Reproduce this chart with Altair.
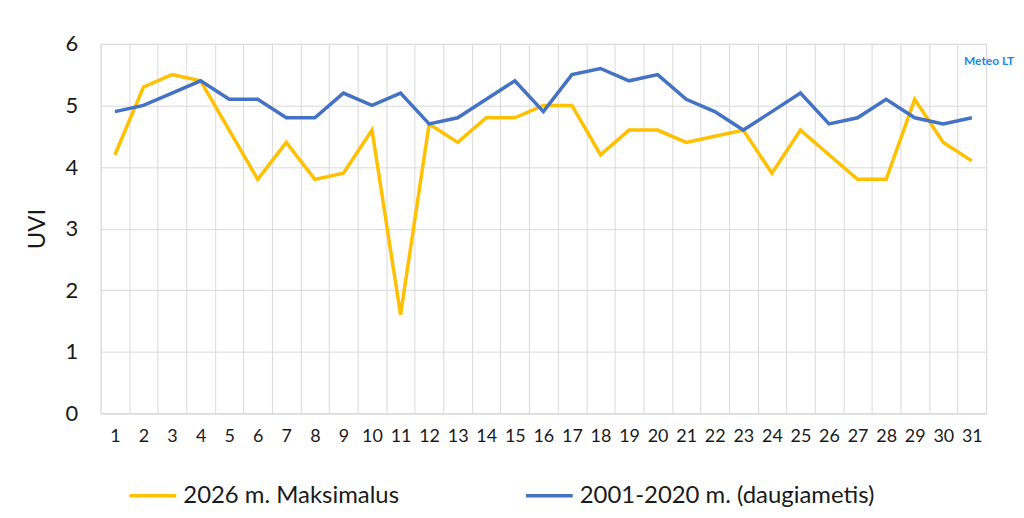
import altair as alt
import pandas as pd

days = list(range(1, 32))
max_2026 = [4.2, 5.3, 5.5, 5.4, 4.6, 3.8, 4.4, 3.8, 3.9, 4.6, 1.6, 4.7, 4.4, 4.8, 4.8, 5.0,
            5.0, 4.2, 4.6, 4.6, 4.4, 4.5, 4.6, 3.9, 4.6, 4.2, 3.8, 3.8, 5.1, 4.4, 4.1]
clim = [4.9, 5.0, 5.2, 5.4, 5.1, 5.1, 4.8, 4.8, 5.2, 5.0, 5.2, 4.7, 4.8, 5.1, 5.4, 4.9,
        5.5, 5.6, 5.4, 5.5, 5.1, 4.9, 4.6, 4.9, 5.2, 4.7, 4.8, 5.1, 4.8, 4.7, 4.8]
series_names = ["2026 m. Maksimalus", "2001-2020 m. (daugiametis)"]
series_colors = ["#FFC000", "#4472C4"]

rows = []
for d, v in zip(days, max_2026):
    rows.append({"day": d, "uvi": v, "series": series_names[0]})
for d, v in zip(days, clim):
    rows.append({"day": d, "uvi": v, "series": series_names[1]})
df = pd.DataFrame(rows)

FONT = "Lato"

lines = alt.Chart(df).mark_line(strokeWidth=3.5, strokeJoin="miter").encode(
    x=alt.X("day:O", bandPosition=0.5,
            scale=alt.Scale(type="band", paddingInner=0, paddingOuter=0),
            axis=alt.Axis(title=None, labelAngle=0, tickBand="extent", ticks=False,
                          grid=True, gridColor="#d9d9d9", gridWidth=1,
                          domainColor="#d9d9d9", labelFontSize=18, labelColor="#1a1a1a",
                          labelPadding=14, labelFont=FONT)),
    y=alt.Y("uvi:Q", scale=alt.Scale(domain=[0, 6]),
            axis=alt.Axis(title="UVI", values=[0, 1, 2, 3, 4, 5, 6], ticks=False, domain=False,
                          gridColor="#d9d9d9", labelFontSize=22, labelColor="#1a1a1a",
                          labelPadding=23, titleFontSize=24, titleFontWeight="normal",
                          titleColor="#1a1a1a", titlePadding=16, labelFont=FONT, titleFont=FONT)),
    color=alt.Color("series:N", scale=alt.Scale(domain=series_names, range=series_colors),
                    legend=alt.Legend(title=None, orient="none", direction="horizontal",
                                      legendX=27, legendY=428, symbolType="stroke",
                                      symbolSize=2200, symbolStrokeWidth=3.5,
                                      labelFontSize=24, labelColor="#1a1a1a", labelFont=FONT,
                                      labelOffset=5, columnPadding=120, labelLimit=400)),
)

logo = alt.Chart(pd.DataFrame({"t": ["Meteo LT"]})).mark_text(
    font=FONT, fontSize=12, fontWeight="bold", color="#1a8ae6", align="center"
).encode(x=alt.value(892), y=alt.value(17), text="t:N")

chart = alt.layer(lines, logo).properties(
    width=889, height=371,
    padding={"left": 93, "top": 35, "right": 30, "bottom": 100},
    autosize=alt.AutoSizeParams(type="none"),
).configure_view(stroke=None).configure(background="white")

chart.save("out.html", embed_options={"renderer": "svg", "actions": False})
